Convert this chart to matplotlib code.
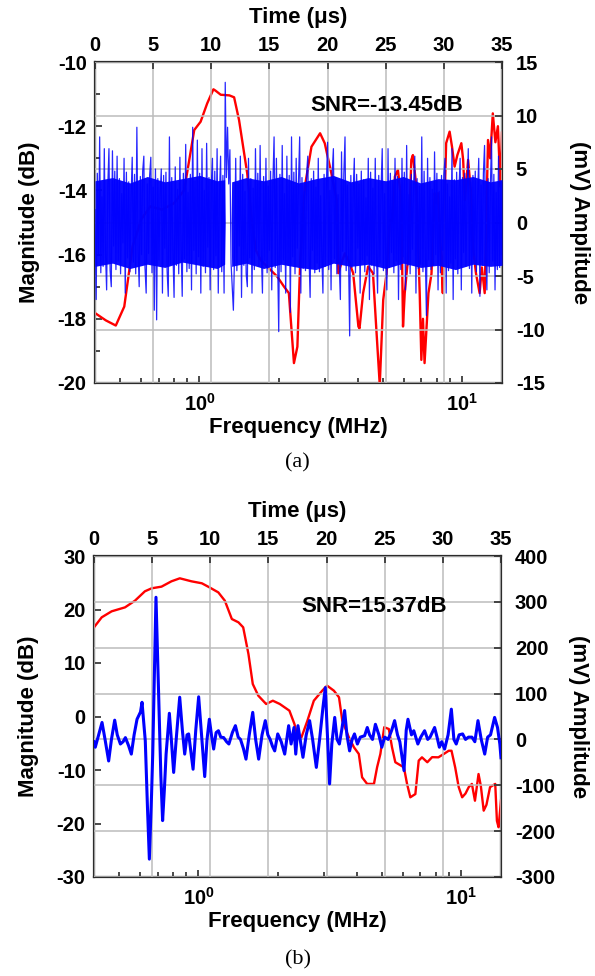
import numpy as np
import matplotlib
matplotlib.use('Agg')
import matplotlib.pyplot as plt
from matplotlib.ticker import LogLocator, MultipleLocator, NullFormatter, FixedLocator, FixedFormatter

plt.rcParams['font.family'] = ['Liberation Sans', 'DejaVu Sans']
plt.rcParams['font.weight'] = 'bold'
plt.rcParams['mathtext.fontset'] = 'custom'
plt.rcParams['mathtext.bf'] = 'Liberation Sans:bold'
plt.rcParams['axes.unicode_minus'] = False

# ---- panel (a): spectrum (red) vs frequency, noisy waveform (blue) vs time
freq_a = [0.40, 0.44, 0.48, 0.517, 0.556, 0.60, 0.65, 0.72, 0.80, 0.875,
          0.955, 1.01, 1.07, 1.13, 1.15, 1.205, 1.30, 1.355, 1.415, 1.52,
          1.58, 1.64, 1.71, 1.85, 1.98, 2.1, 2.19, 2.29, 2.36, 2.42,
          2.52, 2.67, 2.88, 3.0, 3.18, 3.33, 3.38, 3.47, 3.58, 3.7,
          3.85, 4.03, 4.07, 4.2, 4.39, 4.58, 4.71, 4.86, 5.01, 5.16,
          5.31, 5.42, 5.55, 5.7, 5.87, 5.96, 6.05, 6.22, 6.41, 6.5,
          6.7, 6.9, 7.0, 7.1, 7.2, 7.45, 7.65, 7.87, 8.0, 8.1,
          8.34, 8.45, 8.6, 8.7, 8.97, 9.16, 9.37, 9.6, 9.94, 10.1,
          10.25, 10.55, 10.8, 11.0, 11.3, 11.67, 11.9, 12.2, 12.56, 12.8,
          13.1, 13.4, 13.7, 14.0, 14.2]
mag_a = [-17.82, -18.05, -18.21, -17.62, -15.75, -14.9, -14.5, -14.6, -14.4, -13.99,
         -12.12, -11.86, -11.29, -10.85, -10.89, -11.02, -11.04, -11.1, -11.81, -13.47,
         -14.9, -15.86, -16.17, -16.45, -16.69, -17.0, -17.2, -19.38, -18.87, -16.17,
         -13.88, -12.64, -12.22, -12.53, -13.47, -14.3, -16.58, -16.27, -15.96, -16.2,
         -16.58, -18.24, -18.3, -17.2, -16.37, -16.58, -18.24, -20.06, -17.41, -16.58,
         -14.92, -14.95, -13.57, -13.36, -14.3, -18.24, -17.2, -16.17, -13.05, -12.9,
         -13.88, -17.2, -19.28, -18.0, -19.38, -17.2, -16.6, -14.09, -14.4, -14.09,
         -16.17, -17.2, -14.09, -12.53, -12.17, -12.64, -13.26, -12.9, -12.53, -13.05,
         -14.3, -13.05, -14.0, -15.75, -16.58, -17.2, -16.4, -17.2, -12.43, -13.0,
         -11.6, -12.5, -12.0, -13.88, -12.2]

# waveform samples every 0.1 us (one row per microsecond)
amp_a = [
    1.2, -7.2, 4.6, -3.1, 8.0, -4.7, 2.4, -4.1, 6.9, -2.8,
    -6.3, 3.4, 6.9, -4.5, -6.0, 6.7, -2.2, 4.8, -4.4, 6.2,
    -3.6, 4.1, -4.8, 2.7, -1.9, 6.0, -6.6, 4.7, -3.3, 3.8,
    -4.6, 2.2, 6.1, -3.7, 4.5, -4.8, 8.9, -2.5, -6.0, 4.3,
    -3.0, 4.8, 6.2, -4.2, -6.6, 3.6, -2.9, 4.4, 6.1, -4.7,
    3.3, -8.2, 5.0, -9.1, 4.1, -3.5, 2.6, 5.0, -6.6, 4.4,
    -2.4, 4.7, -4.5, -6.9, 8.0, -3.9, 4.2, -2.7, -7.0, 5.2,
    -4.0, 3.1, -4.8, 6.1, -2.1, -6.9, 4.6, -3.4, 7.3, -4.6,
    2.8, -4.3, 4.5, -6.3, 8.9, -2.6, 3.9, -4.8, 7.7, -3.2,
    4.6, -6.6, 6.9, -4.1, 3.0, -4.7, 7.4, -2.3, 4.2, -6.3,
    3.5, 6.0, -4.4, 4.8, -3.1, 6.9, -6.6, 2.5, 6.2, -4.6,
    4.4, -6.6, 13.1, 4.2, 8.9, 3.6, 6.8, -3.8, -5.9, -8.2,
    -3.0, 6.0, -4.5, 3.7, -2.2, 6.2, -7.0, 4.5, -4.0, 2.9,
    -4.8, -6.0, 6.0, -3.3, 4.1, -6.6, 3.2, -4.4, 6.9, -2.5,
    4.6, -4.1, 7.2, -2.8, -6.6, 4.3, -3.6, 6.0, -4.7, 3.4,
    -2.6, 4.8, -6.3, 3.9, 8.0, -4.2, 6.0, -3.1, -10.2, 4.5,
    -4.6, 7.2, -3.5, 2.7, -6.6, 6.2, -4.0, 4.4, -8.4, 8.0,
    -3.2, 4.7, -4.8, 6.0, -2.4, 3.8, 8.0, -6.6, 4.2, -4.3,
    2.9, -4.5, 4.6, 6.2, -3.0, -7.0, 4.1, -2.6, 4.8, -4.7,
    3.3, -3.8, 6.0, -4.6, 2.5, -2.9, -6.6, 4.5, -4.1, 3.7,
    7.5, -4.4, 3.0, -6.3, 4.7, 6.9, -3.4, 4.2, -4.8, 2.6,
    -3.7, -7.2, 6.6, -2.7, 4.6, 8.0, -4.5, 3.5, -3.0, -10.6,
    4.4, -4.2, 2.8, 6.0, -4.7, 4.5, -2.4, 3.6, -6.6, 4.8,
    -3.5, 4.0, -4.6, 2.3, -3.1, 6.0, -7.2, 4.7, -4.0, 3.2,
    -4.8, 6.0, -2.9, -6.6, 4.4, -3.8, 3.1, 6.9, -4.5, 2.7,
    -3.3, -6.3, 6.9, -4.2, 4.6, -2.8, 3.9, -4.7, 6.0, -3.6,
    4.3, -7.2, 3.0, -4.4, 6.0, -3.2, 4.7, -6.3, 7.2, -4.0,
    2.6, -4.8, 4.5, -2.5, 3.7, 6.2, -6.6, 4.1, -4.3, 3.4,
    -3.9, 8.0, -4.6, 4.8, -2.7, -8.7, 6.0, -3.5, 4.2, -4.4,
    3.1, -4.0, 6.6, -3.0, 4.6, -6.3, 2.9, -4.7, 4.4, -2.6,
    4.5, 6.0, -6.6, 3.6, -4.5, 2.4, -3.8, 6.9, -7.2, 4.0,
    -3.4, 4.7, -4.8, 3.0, 6.0, -6.3, 4.2, -2.8, 4.6, -4.1,
    2.7, 6.9, -4.3, 3.8, -6.6, 4.4, -3.1, 4.8, -4.6, 2.5,
    6.0, -6.9, 3.5, -4.0, 4.6, 7.2, -2.9, -6.3, 4.1, -4.7,
    3.2, 8.0, -3.6, 4.5, -6.3, 2.8, -4.4, 6.2, -4.2, 3.9,
    -3.0]
time_a = np.arange(len(amp_a)) * 0.1

# dense core of the noise band (upper / lower edge), empty around 11.2-11.7 us
core_t = [0, 1.5, 3, 4.5, 6, 7.5, 9, 10.5, 11.15, 11.2, 11.7, 11.75,
          13, 14.5, 16, 17.5, 19, 20.5, 22, 23.5, 25, 26.5, 28, 29.5, 31, 32.5, 34, 35]
core_hi = [3.9, 4.2, 3.7, 4.3, 3.8, 4.1, 4.4, 3.9, 4.0, 0, 0, 3.8,
           4.2, 3.9, 4.3, 3.7, 4.1, 4.4, 3.8, 4.2, 3.9, 4.3, 3.7, 4.1, 4.0, 4.3, 3.8, 4.0]
core_lo = [-4.1, -3.8, -4.3, -3.9, -4.2, -3.7, -4.0, -4.3, -3.9, 0, 0, -4.1,
           -3.8, -4.3, -3.9, -4.2, -4.4, -3.8, -4.1, -3.9, -4.3, -3.8, -4.2, -4.0, -4.4, -3.9, -4.1, -4.0]

# ---- panel (b)
freq_b = [0.40, 0.428, 0.467, 0.525, 0.573, 0.625, 0.663, 0.723, 0.789, 0.849,
          0.94, 1.03, 1.10, 1.19, 1.26, 1.34, 1.42, 1.48, 1.55, 1.61,
          1.69, 1.81, 1.92, 2.04, 2.22, 2.32, 2.38, 2.45, 2.6, 2.75,
          2.96, 3.09, 3.28, 3.43, 3.53, 3.74, 3.91, 4.08, 4.2, 4.39,
          4.66, 4.79, 4.93, 5.1, 5.31, 5.46, 5.62, 6.06, 6.23, 6.41,
          6.7, 6.9, 7.1, 7.44, 7.76, 8.2, 8.6, 8.98, 9.2, 9.5,
          9.8, 10.1, 10.4, 10.7, 11.0, 11.3, 11.66, 11.9, 12.2, 12.5,
          12.9, 13.5, 13.7, 13.9, 14.2]
mag_b = [16.67, 18.54, 19.66, 20.4, 21.65, 23.4, 23.96, 24.27, 25.27, 25.83,
         25.27, 24.9, 24.15, 23.2, 21.65, 18.22, 17.6, 16.67, 11.68, 6.07,
         3.89, 2.34, 2.95, 2.34, 1.09, -1.4, -3.6, -4.3, -0.78, 2.95,
         4.82, 5.76, 4.82, 3.58, -0.78, -3.9, -5.76, -7.0, -11.37, -12.6,
         -12.6, -9.5, -7.0, -2.0, -2.34, -5.76, -8.55, -9.5, -12.6, -15.1,
         -14.5, -8.25, -7.63, -8.55, -7.6, -7.63, -7.0, -6.4, -6.4, -9.5,
         -13.2, -15.1, -14.4, -13.2, -12.6, -15.74, -10.75, -13.0, -17.6, -16.5,
         -13.2, -12.6, -19.5, -20.7, -15.7]

time_b = [0.0, 0.11, 0.4, 0.69, 0.95, 1.26, 1.5, 1.78, 2.0, 2.27,
          2.5, 2.7, 2.98, 3.21, 3.45, 3.7, 4.0, 4.13, 4.3, 4.41,
          4.6, 4.76, 4.95, 5.05, 5.2, 5.33, 5.47, 5.62, 5.75, 5.9,
          6.05, 6.2, 6.48, 6.65, 6.85, 7.1, 7.37, 7.6, 7.8, 8.0,
          8.14, 8.3, 8.52, 8.75, 9.0, 9.25, 9.52, 9.72, 9.92, 10.1,
          10.29, 10.5, 10.7, 10.9, 11.15, 11.4, 11.6, 11.9, 12.16, 12.4,
          12.6, 12.85, 13.07, 13.35, 13.65, 13.9, 14.16, 14.45, 14.73, 14.95,
          15.15, 15.35, 15.54, 15.8, 16.1, 16.4, 16.74, 16.95, 17.2, 17.35,
          17.54, 17.97, 18.25, 18.54, 18.8, 19.12, 19.4, 19.69, 19.89, 20.05,
          20.26, 20.45, 20.7, 20.9, 21.1, 21.3, 21.55, 21.75, 21.98, 22.2,
          22.4, 22.65, 22.9, 23.27, 23.5, 23.7, 23.95, 24.2, 24.5, 24.75,
          25.0, 25.3, 25.6, 25.85, 26.1, 26.3, 26.66, 26.85, 27.0, 27.3,
          27.5, 27.85, 28.1, 28.43, 28.7, 28.9, 29.29, 29.5, 29.7, 29.9,
          30.15, 30.45, 30.73, 30.95, 31.15, 31.4, 31.7, 31.95, 32.2, 32.5,
          32.75, 33.02, 33.3, 33.6, 33.85, 34.1, 34.45, 34.7, 34.9, 35.0]
amp_b = [-5, -17, 10, 37, 0, -47, 0, 42, 10, -10,
         -5, 4, -14, -32, 10, 44, 60, 81, 30, -3,
         -150, -261, -120, -32, 150, 310, 180, 41, -80, -177,
         -110, -32, 57, 0, -72, 10, 92, 20, -32, 10,
         12, -20, -65, 20, 93, 10, -81, 0, 44, 10,
         -21, 15, 19, 5, 4, -5, -10, 15, 30, 5,
         0, -20, -43, 10, 59, 0, -43, 10, 41, 10,
         0, -15, -25, 12, -5, -32, 30, -10, 26, -32,
         30, -39, 10, 41, 0, -61, 0, 70, 113, 20,
         -97, -10, 48, 0, -10, 20, 63, 10, -25, 0,
         12, -10, 5, 8, 26, 10, 0, 33, 10, -17,
         5, 0, 20, 41, 10, -5, -68, 20, 44, 10,
         19, -10, 5, 19, 0, 5, 26, 5, -17, -5,
         -21, 10, 66, 0, -10, 10, 12, 0, 5, 5,
         -5, 41, 0, -32, 5, 10, 48, 26, -10, -40]

fig = plt.figure(figsize=(5.95, 9.76), dpi=100)
TICK_FS = 14.5
LABEL_FS = 16
SPINE = '#2b2b2b'
BLUE = '#0000ff'


def panel(rect, f, mag, t, amp, maglim, magmajor, magminor, amplim, ampstep,
          blue_lw, blue_alpha, snr, snr_pos, tag, tag_y, core=None):
    ax = fig.add_axes(rect)
    ax.plot(f, mag, color='#ff0000', lw=1.7, zorder=3)
    ax.set_xscale('log')
    ax.set_xlim(0.4, 14.2)
    ax.set_ylim(*maglim)
    ax.xaxis.set_major_locator(FixedLocator([1, 10]))
    ax.xaxis.set_major_formatter(FixedFormatter([r'$\mathbf{10^0}$', r'$\mathbf{10^1}$']))
    ax.xaxis.set_minor_locator(LogLocator(base=10, subs=np.arange(2, 10)))
    ax.xaxis.set_minor_formatter(NullFormatter())
    ax.yaxis.set_major_locator(MultipleLocator(magmajor))
    if magminor:
        ax.yaxis.set_minor_locator(MultipleLocator(magminor))
    ax.tick_params(which='both', direction='in', top=False, right=False,
                   labelsize=TICK_FS, color=SPINE, width=1.2)
    ax.tick_params(which='major', length=5)
    ax.tick_params(which='minor', length=3.5)
    ax.tick_params(axis='y', pad=6)
    ax.tick_params(axis='x', pad=7)
    for s in ax.spines.values():
        s.set_color(SPINE)
        s.set_linewidth(1.6)
    ax.set_xlabel('Frequency (MHz)', fontsize=LABEL_FS, fontweight='bold')
    ax.xaxis.set_label_coords(0.5, -0.14)
    ax.xaxis.label.set_va('center')
    ax.set_ylabel('Magnitude (dB)', fontsize=LABEL_FS, fontweight='bold')
    ax.yaxis.set_label_coords(-0.16, 0.5)
    ax.yaxis.label.set_va('center')

    at = fig.add_axes(rect, frameon=False)
    at.patch.set_visible(False)
    if core is not None:
        at.fill_between(core[0], core[1], core[2], color=BLUE, lw=0, alpha=0.95, zorder=2)
    at.plot(t, amp, color=BLUE, lw=blue_lw, alpha=blue_alpha, zorder=3)
    at.set_xlim(0, 35)
    at.set_ylim(*amplim)
    at.xaxis.set_major_locator(MultipleLocator(5))
    at.yaxis.set_major_locator(MultipleLocator(ampstep))
    at.xaxis.tick_top()
    at.yaxis.tick_right()
    at.tick_params(direction='in', length=5, width=1.2, color=SPINE, labelsize=TICK_FS)
    at.tick_params(axis='x', pad=5)
    at.tick_params(axis='y', pad=10)
    at.grid(True, color='#bcbcbc', lw=1.1, zorder=0)
    at.set_axisbelow(True)
    at.xaxis.set_label_position('top')
    at.set_xlabel('Time (μs)', fontsize=LABEL_FS, fontweight='bold')
    at.xaxis.set_label_coords(0.5, 1.14)
    at.xaxis.label.set_va('center')
    at.yaxis.set_label_position('right')
    at.set_ylabel('(mV) Amplitude', fontsize=LABEL_FS, fontweight='bold', rotation=-90)
    at.yaxis.set_label_coords(1.19, 0.5)
    at.yaxis.label.set_va('center')

    at.text(snr_pos[0], snr_pos[1], snr, transform=at.transAxes, fontsize=LABEL_FS,
            fontweight='bold', va='center', ha='left')
    fig.text(0.5, tag_y, tag, family=['Liberation Serif', 'DejaVu Serif'],
             fontweight='normal', fontsize=16, ha='center', va='center')


panel([95 / 595, 1 - 383 / 976, 407 / 595, 321 / 976],
      freq_a, mag_a, time_a, amp_a, (-20, -10), 2, 1, (-15, 15), 5,
      0.9, 0.85, 'SNR=-13.45dB', (0.528, 0.866), '(a)', 1 - 463 / 976,
      core=(core_t, core_lo, core_hi))

panel([94 / 595, 1 - 877 / 976, 407 / 595, 321 / 976],
      freq_b, mag_b, time_b, amp_b, (-30, 30), 10, None, (-300, 400), 100,
      2.2, 1.0, 'SNR=15.37dB', (0.509, 0.844), '(b)', 1 - 960 / 976)

fig.savefig('out.png', dpi=100)
